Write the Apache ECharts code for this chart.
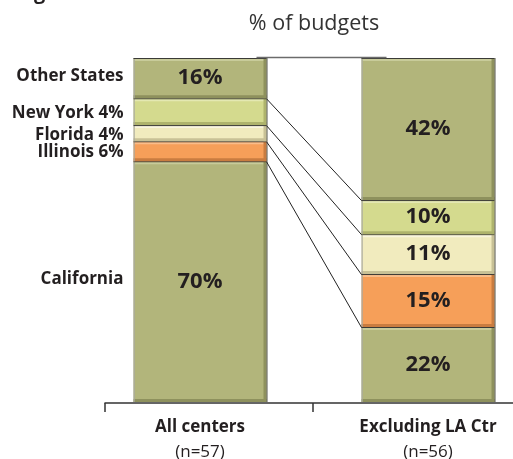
<!DOCTYPE html>
<html><head><meta charset="utf-8">
<script src="https://cdn.jsdelivr.net/npm/echarts@6/dist/echarts.min.js"></script>
<style>html,body{margin:0;padding:0;background:#fff}#c{width:513px;height:459px}</style>
</head><body><div id="c"></div>
<script>
const categories = ['All centers', 'Excluding LA Ctr'];
const sampleSizes = ['(n=57)', '(n=56)'];
const segments = ['California', 'Illinois', 'Florida', 'New York', 'Other States'];
const allCenters = [70, 5.8, 4.7, 7.8, 11.7];
const excludingLA = [21.8, 15.4, 11.6, 9.9, 41.3];
const allCentersText = ['70%', '6%', '4%', '4%', '16%'];
const excludingLAText = ['22%', '15%', '11%', '10%', '42%'];
const sideLabels = ['California', 'Illinois 6%', 'Florida 4%', 'New York 4%', 'Other States'];
const showInsideLeft = [true, false, false, false, true];

const FONT = '"Open Sans", "Noto Sans", sans-serif';
const BAR_W = 133;
const olive = {base: '#B2B57B', light: '#C8CB9A', dark: '#8E915D'};
const lgreen = {base: '#D4DA8E', light: '#E4E8B2', dark: '#AEB36C'};
const cream = {base: '#F1EBBE', light: '#F9F5DF', dark: '#C8C196'};
const orange = {base: '#F69F59', light: '#FABD8A', dark: '#C97C40'};
const palette = [olive, orange, cream, lgreen, olive];
const sideOffset = [-2, 1, 2, 1, -2];

const cols = [allCenters, excludingLA];
const colText = [allCentersText, excludingLAText];

const barSeries = segments.map((seg, i) => ({
  type: 'bar', name: seg, stack: 'total', barWidth: BAR_W,
  xAxisIndex: 0, yAxisIndex: 0,
  itemStyle: {color: palette[i].base},
  data: cols.map((col, c) => ({
    value: col[i],
    label: {
      show: c === 1 || showInsideLeft[i],
      position: 'inside',
      formatter: colText[c][i],
      fontFamily: FONT, fontWeight: 'bold', fontSize: 22, color: '#231f20'
    }
  }))
}));

const bevelData = [];
cols.forEach((col, c) => {
  let acc = 0;
  col.forEach((v, i) => { bevelData.push([c, acc, acc + v, i]); acc += v; });
});

const connData = [];
{
  let a = 0, b = 0;
  for (let i = 0; i < segments.length; i++) {
    a += allCenters[i]; b += excludingLA[i];
    connData.push([a, b, i === segments.length - 1 ? 1 : 0]);
  }
}

const bevelSeries = {
  type: 'custom', xAxisIndex: 0, yAxisIndex: 0, z: 5,
  data: bevelData,
  renderItem: (params, api) => {
    const c = api.value(0), lo = api.value(1), hi = api.value(2), i = api.value(3);
    const p0 = api.coord([c, hi]), p1 = api.coord([c, lo]);
    const x0 = p0[0] - BAR_W / 2, x1 = p0[0] + BAR_W / 2;
    const y0 = p0[1], y1 = p1[1], h = y1 - y0;
    const pal = palette[i];
    const ch = [
      {type: 'rect', shape: {x: x0 + 1, y: y0 + 1, width: BAR_W - 2, height: 2}, style: {fill: pal.light}},
      {type: 'rect', shape: {x: x0, y: y1 - 3, width: BAR_W, height: 3}, style: {fill: pal.dark}},
      {type: 'rect', shape: {x: x1 - 3, y: y0, width: 3, height: h}, style: {fill: pal.dark}},
      {type: 'rect', shape: {x: x0, y: y0, width: 1.2, height: h}, style: {fill: '#a9aaa0'}},
      {type: 'line', shape: {x1: x0, y1: y0 + 0.5, x2: x1, y2: y0 + 0.5}, style: {stroke: '#3a3a36', lineWidth: 1}},
      {type: 'line', shape: {x1: x1 + 0.5, y1: y0, x2: x1 + 0.5, y2: y1}, style: {stroke: '#55554a', lineWidth: 1}}
    ];
    if (c === 0) {
      ch.push({type: 'text', style: {
        text: sideLabels[i], x: x0 - 10, y: (y0 + y1) / 2 + sideOffset[i],
        align: 'right', verticalAlign: 'middle',
        font: 'bold 17px ' + FONT, fill: '#231f20'
      }});
    }
    return {type: 'group', children: ch};
  }
};

const connSeries = {
  type: 'custom', xAxisIndex: 0, yAxisIndex: 0, z: 6,
  data: connData,
  renderItem: (params, api) => {
    const a = api.coord([0, api.value(0)]);
    const b = api.coord([1, api.value(1)]);
    const top = api.value(2) === 1;
    return {type: 'line', shape: {
      x1: a[0] + BAR_W / 2 + (top ? -10 : 0), y1: a[1] + (top ? -0.5 : 0.5),
      x2: b[0] - BAR_W / 2 + (top ? 25 : 0), y2: b[1] + (top ? -0.5 : 0.5)
    }, style: {stroke: top ? '#6b6b6b' : '#222', lineWidth: top ? 1.5 : 1}};
  }
};

const chart = echarts.init(document.getElementById('c'), null, {renderer: 'canvas'});
chart.setOption({
  animation: false,
  backgroundColor: '#fff',
  title: {text: '% of budgets', left: 309, top: 8, textAlign: 'center',
    textStyle: {fontFamily: FONT, fontSize: 21.5, fontWeight: 'normal', color: '#333'}},
  graphic: [{type: 'text', left: 34, top: -17, style: {text: 'g', font: 'bold 20px ' + FONT, fill: '#231f20'}}],
  grid: [
    {left: 86, width: 456, top: 58, height: 344, outerBoundsMode: 'none', containLabel: false},
    {left: 105, width: 416, top: 58, height: 345, outerBoundsMode: 'none', containLabel: false}
  ],
  xAxis: [
    {type: 'category', gridIndex: 0, data: categories,
      axisLine: {show: false}, axisTick: {show: false},
      axisLabel: {margin: 13, interval: 0,
        formatter: (v, idx) => '{a|' + v + '}\n{b|' + sampleSizes[idx] + '}',
        rich: {
          a: {fontFamily: FONT, fontWeight: 'bold', fontSize: 17, color: '#231f20', lineHeight: 25},
          b: {fontFamily: FONT, fontSize: 17, color: '#231f20', lineHeight: 25}
        }}},
    {type: 'value', gridIndex: 1, min: 0, max: 2, interval: 1,
      axisLine: {show: true, lineStyle: {color: '#333', width: 1.5}},
      axisTick: {show: true, length: 9, lineStyle: {color: '#333', width: 1.5}},
      axisLabel: {show: false}, splitLine: {show: false}}
  ],
  yAxis: [
    {type: 'value', gridIndex: 0, min: 0, max: 100, show: false},
    {type: 'value', gridIndex: 1, min: 0, max: 1, show: false}
  ],
  series: [...barSeries, bevelSeries, connSeries]
});
</script></body></html>
